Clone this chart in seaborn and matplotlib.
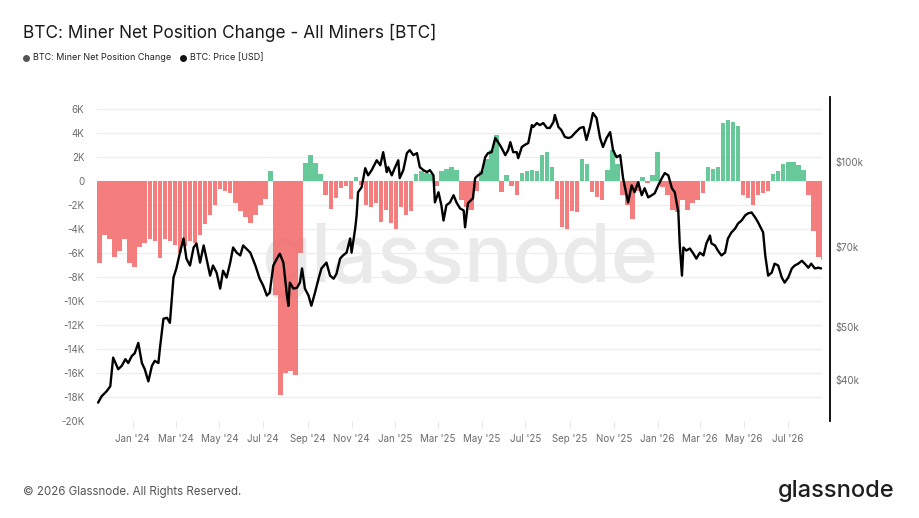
import matplotlib
matplotlib.use("Agg")
import matplotlib.pyplot as plt
from matplotlib.lines import Line2D
import matplotlib.ticker as mticker
import numpy as np
import pandas as pd
import seaborn as sns

# ---------------- data ----------------
start_date = "2023-11-13"

# weekly miner net position change, thousands of BTC (week i centred on day 3 + 7*i)
net_change_k = [
    -6.8, -4.5, -4.8, -6.3, -5.8, -4.8, -6.8, -7.2, -5.5, -5.2,
    -4.8, -5.0, -6.4, -4.8, -5.0, -5.3, -6.0, -5.4, -5.0, -5.2,
    -4.5, -3.6, -2.8, -2.0, -0.7, -0.8, -1.0, -1.8, -2.5, -3.0,
    -3.5, -2.8, -2.0, -1.5, 0.8, -9.5, -17.8, -16.0, -15.8, -16.2,
    -6.0, 1.5, 2.2, 1.5, 0.6, -1.2, -2.3, -1.4, -0.6, -0.4,
    -1.5, 0.3, -0.3, -2.0, -2.2, -1.8, -3.4, -2.4, -3.5, -4.0,
    -2.2, -2.8, -2.5, 0.6, 0.8, 0.7, 0.6, -0.4, 0.8, 1.0,
    1.2, 0.9, -1.6, -2.2, -2.4, -0.8, 0.8, 1.8, 2.6, 3.8,
    -0.9, 0.5, -0.4, -1.2, 0.7, 0.8, 0.9, 0.8, 2.2, 2.4,
    1.2, -1.5, -3.8, -4.0, -2.5, -2.6, 1.8, 1.4, -0.9, -1.3,
    -1.6, 0.9, 2.6, 1.4, -1.2, -2.0, -3.2, -0.8, 0.3, -0.2,
    0.5, 2.4, -0.5, -1.2, -2.4, -2.6, -1.6, -2.4, -1.8, -1.6,
    -1.0, 1.2, 1.0, 1.2, 4.8, 5.1, 4.9, 4.6, -1.2, -1.4,
    -2.0, -1.2, -1.0, -0.8, 0.6, 0.8, 1.4, 1.6, 1.6, 1.3,
    0.9, -1.2, -4.2, -6.3, -6.6,
]

# BTC price readings: day offset from start_date and price in thousand USD
price_days = [
    1, 6, 13, 18, 22, 29, 34, 39, 43, 48, 52, 57, 62, 66, 71, 76, 80, 85, 87, 92,
    97, 101, 106, 110, 115, 120, 124, 129, 134, 138, 143, 148, 152, 157, 161, 166,
    171, 175, 180, 185, 189, 194, 199, 203, 213, 220, 226, 231, 236, 240, 245, 250,
    254, 259, 264, 266, 268, 273, 278, 282, 285, 289, 294, 298, 303, 308, 312, 319,
    324, 329, 333, 338, 342, 347, 352, 354, 359, 361, 363, 368, 373, 377, 382, 389,
    394, 398, 403, 405, 410, 414, 419, 421, 426, 431, 435, 440, 445, 449, 454, 459,
    463, 468, 470, 475, 479, 482, 486, 491, 496, 500, 505, 510, 512, 516, 523, 526,
    530, 535, 540, 544, 549, 554, 558, 563, 568, 572, 575, 579, 584, 586, 591, 595,
    600, 605, 607, 612, 616, 621, 626, 630, 635, 637, 642, 646, 651, 656, 660, 665,
    672, 677, 681, 686, 690, 695, 700, 704, 709, 714, 718, 723, 728, 732, 737, 739,
    744, 748, 753, 758, 762, 767, 772, 776, 781, 786, 790, 795, 800, 804, 809, 811,
    814, 816, 820, 825, 830, 834, 839, 844, 848, 853, 855, 860, 864, 869, 874, 878,
    883, 888, 892, 897, 902, 906, 911, 916, 920, 927, 930, 934, 939, 943, 948, 953,
    957, 962, 967, 971, 976, 981, 985, 990, 994, 999, 1004, 1008,
]
price_k = [
    36.3, 37.3, 38.1, 38.9, 43.9, 41.8, 42.4, 43.6, 42.9, 44.2, 44.7, 46.7, 42.9, 41.8, 39.7, 42.4, 43.3, 42.9, 45.5, 51.7,
    51.9, 50.8, 61.5, 63.9, 68.3, 72.5, 66.6, 64.7, 69.8, 71.0, 65.5, 70.4, 66.6, 62.0, 64.7, 62.8,
    58.7, 63.3, 61.5, 65.5, 69.8, 68.3, 67.5, 70.4, 68.3, 64.7, 61.2, 59.4, 57.0, 57.7, 64.7, 66.6,
    68.0, 65.5, 57.0, 54.6, 60.2, 58.7, 58.9, 60.2, 63.9, 58.7, 57.0, 54.6, 57.7, 61.2, 63.9, 65.5,
    62.0, 61.2, 62.5, 66.6, 67.5, 68.3, 72.5, 68.3, 75.6, 79.9, 88.1, 90.0, 97.5, 94.6, 96.7, 100.8,
    98.7, 104.3, 95.9, 97.9, 94.6, 97.5, 100.8, 93.5, 96.7, 103.9, 105.2, 103.0, 103.9, 97.9, 96.7, 95.9,
    96.7, 94.6, 84.4, 88.1, 83.4, 78.2, 83.4, 84.4, 87.0, 84.4, 82.3, 81.6, 76.0, 84.1, 85.9, 93.5,
    94.6, 95.5, 102.1, 103.9, 104.3, 110.7, 108.8, 106.1, 103.0, 105.2, 108.8, 104.3, 104.3, 101.7, 106.6, 107.5,
    108.4, 116.9, 116.0, 117.9, 116.9, 117.9, 115.5, 115.5, 118.4, 122.0, 116.0, 114.5, 111.2, 110.7, 111.2, 113.1,
    115.5, 116.0, 109.8, 116.0, 123.0, 120.5, 110.7, 106.6, 110.7, 113.5, 105.2, 102.1, 103.0, 93.5, 87.0, 84.4,
    90.7, 88.1, 91.9, 87.0, 89.6, 86.2, 87.0, 87.7, 90.7, 93.5, 95.5, 94.6, 89.6, 88.1, 80.9, 70.4,
    62.0, 69.8, 68.9, 69.5, 68.0, 66.6, 68.3, 67.5, 71.0, 73.4, 71.0, 70.4, 68.9, 67.5, 68.3, 72.5,
    74.4, 75.6, 77.2, 78.2, 79.9, 80.6, 80.9, 79.2, 77.6, 74.4, 67.5, 62.0, 62.8, 65.2, 64.7, 61.5,
    60.2, 61.5, 63.9, 64.7, 65.2, 66.0, 65.2, 64.1, 65.2, 63.9, 64.1, 63.9,
]

left_ticks_k = [-20, -18, -16, -14, -12, -10, -8, -6, -4, -2, 0, 2, 4, 6]
right_ticks_k = [40, 50, 70, 100]
x_tick_months = ["2024-01-01", "2024-03-01", "2024-05-01", "2024-07-01",
                 "2024-09-01", "2024-11-01", "2025-01-01", "2025-03-01",
                 "2025-05-01", "2025-07-01", "2025-09-01", "2025-11-01",
                 "2026-01-01", "2026-03-01", "2026-05-01", "2026-07-01"]

title = "BTC: Miner Net Position Change - All Miners [BTC]"
legend_labels = ["BTC: Miner Net Position Change", "BTC: Price [USD]"]

# ---------------- frames ----------------
t0 = pd.Timestamp(start_date)
bars = pd.DataFrame({
    "date": [t0 + pd.Timedelta(days=3 + 7 * i) for i in range(len(net_change_k))],
    "net": np.array(net_change_k) * 1000.0,
})
prices = pd.DataFrame({
    "date": [t0 + pd.Timedelta(days=d) for d in price_days],
    "price": np.array(price_k) * 1000.0,
})

sns.set_theme(style="white")
FONT = ["Inter", "DejaVu Sans"]
plt.rcParams["font.family"] = FONT

RED = "#F36C6C"
GREEN = "#52C18C"
GRID = "#EDEDED"
TICKC = "#6b6b6b"

fig = plt.figure(figsize=(9.2, 5.18), dpi=100)
fig.patch.set_facecolor("white")
ax = fig.add_axes([97 / 920, 1 - 421 / 518, 725 / 920, 324 / 518])
ax.set_facecolor("none")

colors = [GREEN if v >= 0 else RED for v in bars["net"]]
ax.bar(bars["date"], bars["net"], width=6.3, color=colors, edgecolor="none",
       alpha=0.88, zorder=2)

ax.set_ylim(-20000, 7000)
ax.set_yticks([t * 1000 for t in left_ticks_k])
ax.set_yticklabels([("0" if t == 0 else f"{t}K") for t in left_ticks_k])
ax.yaxis.grid(True, color=GRID, linewidth=0.9, zorder=0)
ax.xaxis.grid(False)
ax.set_axisbelow(True)
for s in ax.spines.values():
    s.set_visible(False)
ax.tick_params(axis="y", length=0, pad=9, labelsize=7, labelcolor=TICKC)

x0 = t0 - pd.Timedelta(days=0.5)
x1 = t0 + pd.Timedelta(days=1009)
ax.set_xlim(x0, x1)
xt = pd.to_datetime(x_tick_months)
ax.set_xticks(xt)
ax.set_xticklabels([d.strftime("%b '%y") for d in xt])
ax.tick_params(axis="x", length=5, width=0.8, color="#e6e6e6", pad=4,
               labelsize=7, labelcolor=TICKC, bottom=True)

# watermark
ax.text(0.5, 0.43, "glassnode", transform=ax.transAxes, ha="center",
        va="baseline", fontsize=58, color="#EAEAEA", zorder=1,
        fontweight="medium")

# price on log right axis
ax2 = ax.twinx()
sns.lineplot(data=prices, x="date", y="price", ax=ax2, color="black",
             linewidth=1.7, zorder=5)
ax2.set_yscale("log")
ax2.set_ylim(33600, 131600)
ax2.set_yticks([t * 1000 for t in right_ticks_k])
ax2.yaxis.set_minor_locator(mticker.NullLocator())
ax2.set_yticklabels([f"${t}k" for t in right_ticks_k])
ax2.set_ylabel("")
ax2.set_xlabel("")
ax.set_xlabel("")
for name, s in ax2.spines.items():
    s.set_visible(name == "right")
ax2.spines["right"].set_position(("outward", 6))
ax2.spines["right"].set_color("black")
ax2.spines["right"].set_linewidth(1.3)
ax2.tick_params(axis="y", length=0, pad=4, labelsize=7, labelcolor=TICKC)
ax2.grid(False)
ax2.set_xlim(x0, x1)

# title & legend
fig.text(23 / 920, 1 - 37.5 / 518, title, fontsize=12.4, color="#1a1a1a",
         va="baseline", ha="left")
for (xd, xt_, lab, col) in [(26, 33, legend_labels[0], "#555555"),
                            (183, 190, legend_labels[1], "#111111")]:
    fig.add_artist(Line2D([xd / 920], [1 - 58 / 518], marker="o",
                          markersize=4, color=col, linestyle="none",
                          transform=fig.transFigure))
    fig.text(xt_ / 920, 1 - 58 / 518, lab, fontsize=6.5, color="#222222",
             va="center", ha="left")

# footer
fig.text(23 / 920, 1 - 495 / 518, "\u00a9 2026 Glassnode. All Rights Reserved.",
         fontsize=8.3, color="#555555", va="baseline", ha="left")
fig.text(895 / 920, 1 - 497 / 518, "glassnode", fontsize=17, color="#1e1e1e",
         va="baseline", ha="right", fontweight="medium")

fig.savefig("out.png", dpi=100, facecolor="white")
